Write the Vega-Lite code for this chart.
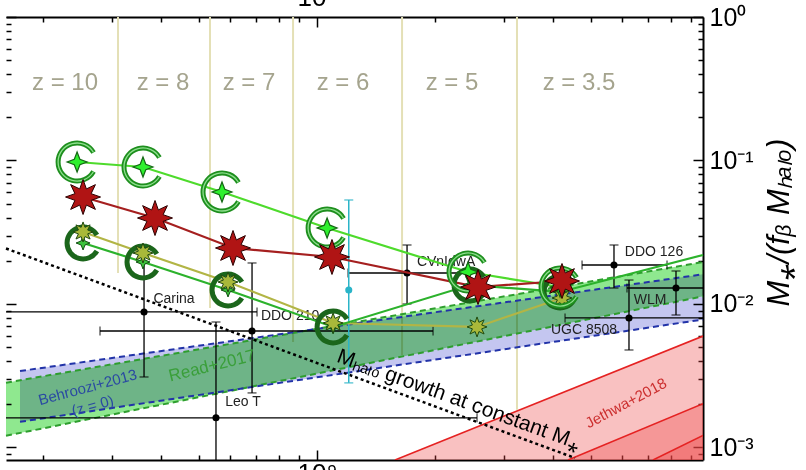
{
  "$schema": "https://vega.github.io/schema/vega-lite/v6.json",
  "width": 697,
  "height": 443,
  "autosize": {"type": "none"},
  "padding": {"left": 6, "top": 17, "right": 103, "bottom": 10},
  "background": "white",
  "config": {"view": {"stroke": null}, "font": "Liberation Sans"},
  "resolve": {"axis": {"x": "independent", "y": "independent"}},
  "datasets": {
    "zlines": [
      {"x": 3.107e8, "y": 1, "y2": 0.01644},
      {"x": 5.333e8, "y": 1, "y2": 0.00938},
      {"x": 8.687e8, "y": 1, "y2": 0.00543},
      {"x": 1.648e9, "y": 1, "y2": 0.00441},
      {"x": 3.237e9, "y": 1, "y2": 0.00183}
    ],
    "zlabels": [
      {"x": 2.276e8, "y": 0.3467, "t": "z = 10"},
      {"x": 4.046e8, "y": 0.3467, "t": "z = 8"},
      {"x": 6.707e8, "y": 0.3467, "t": "z = 7"},
      {"x": 1.165e9, "y": 0.3467, "t": "z = 6"},
      {"x": 2.21e9, "y": 0.3467, "t": "z = 5"},
      {"x": 4.66e9, "y": 0.3467, "t": "z = 3.5"}
    ],
    "read": [
      {"x": 1.609e8, "hi": 0.002828, "lo": 0.001207},
      {"x": 9.654e9, "hi": 0.01962, "lo": 0.0113}
    ],
    "behroozi": [
      {"x": 1.747e8, "hi": 0.00341, "lo": 0.00151},
      {"x": 9.654e9, "hi": 0.01611, "lo": 0.0078}
    ],
    "jethwa": [
      {"k": 1, "x": 1.581e9, "y": 0.000818},
      {"k": 1, "x": 9.654e9, "y": 0.00598},
      {"k": 2, "x": 4.369e9, "y": 0.000818},
      {"k": 2, "x": 9.654e9, "y": 0.002018},
      {"k": 3, "x": 7.196e9, "y": 0.000818},
      {"k": 3, "x": 9.654e9, "y": 0.001213}
    ],
    "dotted": [
      {"x": 1.609e8, "y": 0.02436},
      {"x": 4.551e9, "y": 0.000845}
    ],
    "obs": [
      {"name": "Carina", "x": 3.62e8, "y": 0.0088, "xlo": 1.4e8, "xhi": 7.03e8, "ylo": 0.0031, "yhi": 0.02195, "lx": 4.317e8, "ly": 0.01083},
      {"name": "DDO 210", "x": 6.827e8, "y": 0.00648, "xlo": 2.795e8, "xhi": 1.977e9, "ylo": 0.0024, "yhi": 0.01931, "lx": 8.535e8, "ly": 0.00825},
      {"name": "Leo T", "x": 5.524e8, "y": 0.00161, "xlo": 1.4e8, "xhi": 2.56e9, "ylo": 0.0006, "yhi": 0.00749, "lx": 6.476e8, "ly": 0.00208},
      {"name": "CVnIdwA", "x": 1.697e9, "y": 0.01644, "xlo": 1.2e9, "xhi": 2.4e9, "ylo": 0.01, "yhi": 0.02577, "lx": 2.134e9, "ly": 0.01962},
      {"name": "DDO 126", "x": 5.723e9, "y": 0.0187, "xlo": 4.744e9, "xhi": 7.815e9, "ylo": 0.01292, "yhi": 0.02577, "lx": 7.239e9, "ly": 0.02304},
      {"name": "WLM", "x": 8.238e9, "y": 0.01292, "xlo": 6.177e9, "xhi": 1.2e10, "ylo": 0.00838, "yhi": 0.01698, "lx": 7.071e9, "ly": 0.01066},
      {"name": "UGC 8508", "x": 6.25e9, "y": 0.00799, "xlo": 4.293e9, "xhi": 1.2e10, "ylo": 0.00478, "yhi": 0.01469, "lx": 4.799e9, "ly": 0.00659}
    ],
    "cyan": [
      {"x": 1.205e9, "y": 0.01252, "ylo": 0.00282, "yhi": 0.05306}
    ],
    "tracks": [
      {"trk": "A", "x": 2.443e8, "y": 0.09761, "m": 1},
      {"trk": "A", "x": 3.598e8, "y": 0.0901, "m": 1},
      {"trk": "A", "x": 5.723e8, "y": 0.06033, "m": 1},
      {"trk": "A", "x": 1.061e9, "y": 0.03386, "m": 1},
      {"trk": "A", "x": 2.428e9, "y": 0.01671, "m": 1},
      {"trk": "A", "x": 4.169e9, "y": 0.01313, "m": 1},
      {"trk": "B", "x": 2.53e8, "y": 0.05566, "m": 1},
      {"trk": "B", "x": 3.861e8, "y": 0.03974, "m": 1},
      {"trk": "B", "x": 6.105e8, "y": 0.02456, "m": 1},
      {"trk": "B", "x": 1.092e9, "y": 0.02126, "m": 1},
      {"trk": "B", "x": 2.575e9, "y": 0.01313, "m": 1},
      {"trk": "B", "x": 4.217e9, "y": 0.01446, "m": 1},
      {"trk": "C", "x": 2.53e8, "y": 0.03177, "m": 1},
      {"trk": "C", "x": 3.598e8, "y": 0.02266, "m": 1},
      {"trk": "C", "x": 5.929e8, "y": 0.01423, "m": 1},
      {"trk": "C", "x": 1.099e9, "y": 0.00737, "m": 1},
      {"trk": "C", "x": 2.56e9, "y": 0.00692, "m": 1},
      {"trk": "C", "x": 4.217e9, "y": 0.01101, "m": 1},
      {"trk": "D", "x": 2.53e8, "y": 0.02661, "m": 1},
      {"trk": "D", "x": 3.598e8, "y": 0.01962, "m": 1},
      {"trk": "D", "x": 5.929e8, "y": 0.01252, "m": 1},
      {"trk": "D", "x": 1.099e9, "y": 0.00692, "m": 1},
      {"trk": "D", "x": 2.457e9, "y": 0.01356, "m": 1},
      {"trk": "D", "x": 4.169e9, "y": 0.01213, "m": 1},
      {"trk": "D", "x": 9.654e9, "y": 0.02195, "m": 0}
    ],
    "bandtext": [
      {"x": 2.6e8, "y": 0.00263, "t": "Behroozi+2013\n(z = 0)", "g": "B"},
      {"x": 5.396e8, "y": 0.0037, "t": "Read+2017", "g": "R"},
      {"x": 6.141e9, "y": 0.00204, "t": "Jethwa+2018", "g": "J"},
      {"x": 2.302e9, "y": 0.00214, "t": "Mₕₐₗₒ growth at constant M⁎", "g": "M"}
    ]
  },
  "layer": [
    {
      "data": {"name": "zlines"},
      "mark": {"type": "rule", "color": "#e4e0b6", "strokeWidth": 2},
      "encoding": {
        "x": {"field": "x", "type": "quantitative", "scale": {"type": "log", "domain": [1.609e8, 9.654e9]},
          "axis": {"orient": "bottom", "values": [2e8, 3e8, 4e8, 5e8, 6e8, 7e8, 8e8, 9e8, 1e9, 2e9, 3e9, 4e9, 5e9, 6e9, 7e9, 8e9, 9e9],
            "title": null, "grid": false, "labelExpr": "abs(log(datum.value)/LN10 - 9) < 0.001 ? '10⁹' : ''",
            "labelFontSize": 26, "labelColor": "black", "labelPadding": 10, "labelOverlap": false, "labelFlush": false,
            "tickColor": "black", "tickWidth": 1.5,
            "tickSize": {"condition": {"test": "abs(log(datum.value)/LN10 - round(log(datum.value)/LN10)) < 0.001", "value": -10}, "value": -5},
            "domainColor": "black", "domainWidth": 2}},
        "y": {"field": "y", "type": "quantitative", "scale": {"type": "log", "domain": [0.000818, 1]},
          "axis": {"orient": "right", "values": [0.0009, 0.001, 0.002, 0.003, 0.004, 0.005, 0.006, 0.007, 0.008, 0.009, 0.01, 0.02, 0.03, 0.04, 0.05, 0.06, 0.07, 0.08, 0.09, 0.1, 0.2, 0.3, 0.4, 0.5, 0.6, 0.7, 0.8, 0.9, 1],
            "title": "M⁎/(fᵦ Mₕₐₗₒ)", "titleFontSize": 31, "titleFontWeight": "normal", "titleFontStyle": "italic", "titleColor": "black",
            "titleAngle": 270, "titleX": 76, "titleY": 205, "titleAlign": "center", "titleBaseline": "middle",
            "grid": false,
            "labelExpr": "abs(log(datum.value)/LN10 - round(log(datum.value)/LN10)) < 0.001 ? ['10⁻³','10⁻²','10⁻¹','10⁰'][round(log(datum.value)/LN10)+3] : ''",
            "labelFontSize": 25, "labelColor": "black", "labelPadding": 16, "labelOverlap": false, "labelFlush": false,
            "tickColor": "black", "tickWidth": 1.5,
            "tickSize": {"condition": {"test": "abs(log(datum.value)/LN10 - round(log(datum.value)/LN10)) < 0.001", "value": -10}, "value": -5},
            "domainColor": "black", "domainWidth": 2}},
        "y2": {"field": "y2"}
      }
    },
    {
      "data": {"name": "read"},
      "mark": {"type": "area", "color": "#8fe88f", "opacity": 1, "blend": "multiply"},
      "encoding": {
        "x": {"field": "x", "type": "quantitative", "scale": {"type": "log", "domain": [1.609e8, 9.654e9]}, "axis": null},
        "y": {"field": "hi", "type": "quantitative", "scale": {"type": "log", "domain": [0.000818, 1]}, "axis": null},
        "y2": {"field": "lo"}
      }
    },
    {
      "data": {"name": "behroozi"},
      "mark": {"type": "area", "color": "#c4c6f0", "opacity": 1, "blend": "multiply"},
      "encoding": {
        "x": {"field": "x", "type": "quantitative", "scale": {"type": "log", "domain": [1.609e8, 9.654e9]}, "axis": null},
        "y": {"field": "hi", "type": "quantitative", "scale": {"type": "log", "domain": [0.000818, 1]}, "axis": null},
        "y2": {"field": "lo"}
      }
    },
    {
      "data": {"name": "jethwa"},
      "mark": {"type": "area", "color": "#ee4444", "opacity": 0.33, "clip": true},
      "encoding": {
        "x": {"field": "x", "type": "quantitative", "scale": {"type": "log", "domain": [1.609e8, 9.654e9]}, "axis": null},
        "y": {"field": "y", "type": "quantitative", "scale": {"type": "log", "domain": [0.000818, 1]}, "axis": null},
        "y2": {"datum": 0.0005},
        "detail": {"field": "k"}
      }
    },
    {
      "data": {"name": "read"},
      "transform": [{"fold": ["hi", "lo"], "as": ["k", "v"]}],
      "mark": {"type": "line", "color": "#2e9e2e", "strokeWidth": 2, "strokeDash": [6, 4]},
      "encoding": {
        "x": {"field": "x", "type": "quantitative", "scale": {"type": "log", "domain": [1.609e8, 9.654e9]}, "axis": null},
        "y": {"field": "v", "type": "quantitative", "scale": {"type": "log", "domain": [0.000818, 1]}, "axis": null},
        "detail": {"field": "k"}
      }
    },
    {
      "data": {"name": "behroozi"},
      "transform": [{"fold": ["hi", "lo"], "as": ["k", "v"]}],
      "mark": {"type": "line", "color": "#2233a8", "strokeWidth": 2, "strokeDash": [6, 4]},
      "encoding": {
        "x": {"field": "x", "type": "quantitative", "scale": {"type": "log", "domain": [1.609e8, 9.654e9]}, "axis": null},
        "y": {"field": "v", "type": "quantitative", "scale": {"type": "log", "domain": [0.000818, 1]}, "axis": null},
        "detail": {"field": "k"}
      }
    },
    {
      "data": {"name": "jethwa"},
      "mark": {"type": "line", "color": "#e52222", "strokeWidth": 1.6, "clip": true},
      "encoding": {
        "x": {"field": "x", "type": "quantitative", "scale": {"type": "log", "domain": [1.609e8, 9.654e9]}, "axis": null},
        "y": {"field": "y", "type": "quantitative", "scale": {"type": "log", "domain": [0.000818, 1]}, "axis": null},
        "detail": {"field": "k"}
      }
    },
    {
      "data": {"name": "dotted"},
      "mark": {"type": "line", "color": "black", "strokeWidth": 2.5, "strokeDash": [3, 3]},
      "encoding": {
        "x": {"field": "x", "type": "quantitative", "scale": {"type": "log", "domain": [1.609e8, 9.654e9]}, "axis": null},
        "y": {"field": "y", "type": "quantitative", "scale": {"type": "log", "domain": [0.000818, 1]}, "axis": null}
      }
    },
    {
      "data": {"name": "obs"},
      "mark": {"type": "rule", "color": "black", "strokeWidth": 1.3, "clip": true},
      "encoding": {
        "x": {"field": "x", "type": "quantitative", "scale": {"type": "log", "domain": [1.609e8, 9.654e9]}, "axis": null},
        "y": {"field": "ylo", "type": "quantitative", "scale": {"type": "log", "domain": [0.000818, 1]}, "axis": null},
        "y2": {"field": "yhi"}
      }
    },
    {
      "data": {"name": "obs"},
      "mark": {"type": "rule", "color": "black", "strokeWidth": 1.3, "clip": true},
      "encoding": {
        "x": {"field": "xlo", "type": "quantitative", "scale": {"type": "log", "domain": [1.609e8, 9.654e9]}, "axis": null},
        "x2": {"field": "xhi"},
        "y": {"field": "y", "type": "quantitative", "scale": {"type": "log", "domain": [0.000818, 1]}, "axis": null}
      }
    },
    {
      "data": {"name": "obs"},
      "transform": [{"fold": ["ylo", "yhi"], "as": ["k", "v"]}],
      "mark": {"type": "tick", "orient": "horizontal", "color": "black", "size": 9, "thickness": 1.3, "clip": true},
      "encoding": {
        "x": {"field": "x", "type": "quantitative", "scale": {"type": "log", "domain": [1.609e8, 9.654e9]}, "axis": null},
        "y": {"field": "v", "type": "quantitative", "scale": {"type": "log", "domain": [0.000818, 1]}, "axis": null}
      }
    },
    {
      "data": {"name": "obs"},
      "transform": [{"fold": ["xlo", "xhi"], "as": ["k", "v"]}],
      "mark": {"type": "tick", "orient": "vertical", "color": "black", "size": 9, "thickness": 1.3, "clip": true},
      "encoding": {
        "x": {"field": "v", "type": "quantitative", "scale": {"type": "log", "domain": [1.609e8, 9.654e9]}, "axis": null},
        "y": {"field": "y", "type": "quantitative", "scale": {"type": "log", "domain": [0.000818, 1]}, "axis": null}
      }
    },
    {
      "data": {"name": "obs"},
      "mark": {"type": "circle", "color": "black", "size": 50, "opacity": 1},
      "encoding": {
        "x": {"field": "x", "type": "quantitative", "scale": {"type": "log", "domain": [1.609e8, 9.654e9]}, "axis": null},
        "y": {"field": "y", "type": "quantitative", "scale": {"type": "log", "domain": [0.000818, 1]}, "axis": null}
      }
    },
    {
      "data": {"name": "obs"},
      "mark": {"type": "text", "color": "#222222", "fontSize": 14, "align": "center", "baseline": "middle"},
      "encoding": {
        "x": {"field": "lx", "type": "quantitative", "scale": {"type": "log", "domain": [1.609e8, 9.654e9]}, "axis": null},
        "y": {"field": "ly", "type": "quantitative", "scale": {"type": "log", "domain": [0.000818, 1]}, "axis": null},
        "text": {"field": "name"}
      }
    },
    {
      "data": {"name": "cyan"},
      "mark": {"type": "rule", "color": "#2ab4c8", "strokeWidth": 1.5},
      "encoding": {
        "x": {"field": "x", "type": "quantitative", "scale": {"type": "log", "domain": [1.609e8, 9.654e9]}, "axis": null},
        "y": {"field": "ylo", "type": "quantitative", "scale": {"type": "log", "domain": [0.000818, 1]}, "axis": null},
        "y2": {"field": "yhi"}
      }
    },
    {
      "data": {"name": "cyan"},
      "transform": [{"fold": ["ylo", "yhi"], "as": ["k", "v"]}],
      "mark": {"type": "tick", "orient": "horizontal", "color": "#2ab4c8", "size": 9, "thickness": 1.5},
      "encoding": {
        "x": {"field": "x", "type": "quantitative", "scale": {"type": "log", "domain": [1.609e8, 9.654e9]}, "axis": null},
        "y": {"field": "v", "type": "quantitative", "scale": {"type": "log", "domain": [0.000818, 1]}, "axis": null}
      }
    },
    {
      "data": {"name": "cyan"},
      "mark": {"type": "circle", "color": "#2ab4c8", "size": 50, "opacity": 1},
      "encoding": {
        "x": {"field": "x", "type": "quantitative", "scale": {"type": "log", "domain": [1.609e8, 9.654e9]}, "axis": null},
        "y": {"field": "y", "type": "quantitative", "scale": {"type": "log", "domain": [0.000818, 1]}, "axis": null}
      }
    },
    {
      "data": {"name": "tracks"},
      "mark": {"type": "line", "strokeWidth": 2.2},
      "encoding": {
        "x": {"field": "x", "type": "quantitative", "scale": {"type": "log", "domain": [1.609e8, 9.654e9]}, "axis": null},
        "y": {"field": "y", "type": "quantitative", "scale": {"type": "log", "domain": [0.000818, 1]}, "axis": null},
        "color": {"field": "trk", "type": "nominal", "scale": {"domain": ["A", "B", "C", "D"], "range": ["#4edb2c", "#a51f1f", "#b2b545", "#2cb22c"]}, "legend": null},
        "order": {"field": "x", "type": "quantitative"}
      }
    },
    {
      "data": {"name": "tracks"},
      "transform": [{"filter": "datum.trk == 'D' && datum.m == 1"}],
      "mark": {"type": "point", "shape": "M0.866,-0.5 A1,1 0 1,0 0.866,0.5", "filled": false, "stroke": "#1b661b", "strokeWidth": 5, "size": 1024, "opacity": 1},
      "encoding": {
        "x": {"field": "x", "type": "quantitative", "scale": {"type": "log", "domain": [1.609e8, 9.654e9]}, "axis": null},
        "y": {"field": "y", "type": "quantitative", "scale": {"type": "log", "domain": [0.000818, 1]}, "axis": null}
      }
    },
    {
      "data": {"name": "tracks"},
      "transform": [{"filter": "datum.trk == 'D' && datum.m == 1"}],
      "mark": {"type": "point", "shape": "M0,-1 L0.28,-0.28 L1,0 L0.28,0.28 L0,1 L-0.28,0.28 L-1,0 L-0.28,-0.28 Z", "filled": true, "fill": "#3cc23c", "stroke": "#145214", "strokeWidth": 1, "size": 196, "opacity": 1},
      "encoding": {
        "x": {"field": "x", "type": "quantitative", "scale": {"type": "log", "domain": [1.609e8, 9.654e9]}, "axis": null},
        "y": {"field": "y", "type": "quantitative", "scale": {"type": "log", "domain": [0.000818, 1]}, "axis": null}
      }
    },
    {
      "data": {"name": "tracks"},
      "transform": [{"filter": "datum.trk == 'C' && datum.m == 1"}],
      "mark": {"type": "point", "shape": "M0,-1 L0.191,-0.462 L0.707,-0.707 L0.462,-0.191 L1,0 L0.462,0.191 L0.707,0.707 L0.191,0.462 L0,1 L-0.191,0.462 L-0.707,0.707 L-0.462,0.191 L-1,0 L-0.462,-0.191 L-0.707,-0.707 L-0.191,-0.462 Z", "filled": true, "fill": "#a9b83a", "stroke": "#1f4a10", "strokeWidth": 1, "size": 400, "opacity": 1},
      "encoding": {
        "x": {"field": "x", "type": "quantitative", "scale": {"type": "log", "domain": [1.609e8, 9.654e9]}, "axis": null},
        "y": {"field": "y", "type": "quantitative", "scale": {"type": "log", "domain": [0.000818, 1]}, "axis": null}
      }
    },
    {
      "data": {"name": "tracks"},
      "transform": [{"filter": "datum.trk == 'A'"}],
      "mark": {"type": "point", "shape": "M0.866,-0.5 A1,1 0 1,0 0.866,0.5", "filled": false, "stroke": "#1e8f1e", "strokeWidth": 5, "size": 1444, "opacity": 1},
      "encoding": {
        "x": {"field": "x", "type": "quantitative", "scale": {"type": "log", "domain": [1.609e8, 9.654e9]}, "axis": null},
        "y": {"field": "y", "type": "quantitative", "scale": {"type": "log", "domain": [0.000818, 1]}, "axis": null}
      }
    },
    {
      "data": {"name": "tracks"},
      "transform": [{"filter": "datum.trk == 'A'"}],
      "mark": {"type": "point", "shape": "M0.866,-0.5 A1,1 0 1,0 0.866,0.5", "filled": false, "stroke": "#8fe08f", "strokeWidth": 1.3, "size": 1444, "opacity": 1},
      "encoding": {
        "x": {"field": "x", "type": "quantitative", "scale": {"type": "log", "domain": [1.609e8, 9.654e9]}, "axis": null},
        "y": {"field": "y", "type": "quantitative", "scale": {"type": "log", "domain": [0.000818, 1]}, "axis": null}
      }
    },
    {
      "data": {"name": "tracks"},
      "transform": [{"filter": "datum.trk == 'A'"}],
      "mark": {"type": "point", "shape": "M0,-1 L0.28,-0.28 L1,0 L0.28,0.28 L0,1 L-0.28,0.28 L-1,0 L-0.28,-0.28 Z", "filled": true, "fill": "#2ef02e", "stroke": "#146614", "strokeWidth": 1.2, "size": 400, "opacity": 1},
      "encoding": {
        "x": {"field": "x", "type": "quantitative", "scale": {"type": "log", "domain": [1.609e8, 9.654e9]}, "axis": null},
        "y": {"field": "y", "type": "quantitative", "scale": {"type": "log", "domain": [0.000818, 1]}, "axis": null}
      }
    },
    {
      "data": {"name": "tracks"},
      "transform": [{"filter": "datum.trk == 'B'"}],
      "mark": {"type": "point", "shape": "M0,-1 L0.191,-0.462 L0.707,-0.707 L0.462,-0.191 L1,0 L0.462,0.191 L0.707,0.707 L0.191,0.462 L0,1 L-0.191,0.462 L-0.707,0.707 L-0.462,0.191 L-1,0 L-0.462,-0.191 L-0.707,-0.707 L-0.191,-0.462 Z", "filled": true, "fill": "#b01414", "stroke": "#2a0000", "strokeWidth": 1, "size": 1225, "opacity": 1},
      "encoding": {
        "x": {"field": "x", "type": "quantitative", "scale": {"type": "log", "domain": [1.609e8, 9.654e9]}, "axis": null},
        "y": {"field": "y", "type": "quantitative", "scale": {"type": "log", "domain": [0.000818, 1]}, "axis": null}
      }
    },
    {
      "data": {"name": "bandtext"},
      "transform": [{"filter": "datum.g == 'B'"}],
      "mark": {"type": "text", "color": "#2a4aa2", "fontSize": 15, "angle": 345, "align": "center", "baseline": "middle", "lineBreak": "\n", "lineHeight": 19},
      "encoding": {
        "x": {"field": "x", "type": "quantitative", "scale": {"type": "log", "domain": [1.609e8, 9.654e9]}, "axis": null},
        "y": {"field": "y", "type": "quantitative", "scale": {"type": "log", "domain": [0.000818, 1]}, "axis": null},
        "text": {"field": "t"}
      }
    },
    {
      "data": {"name": "bandtext"},
      "transform": [{"filter": "datum.g == 'R'"}],
      "mark": {"type": "text", "color": "#3a9f3a", "fontSize": 17, "angle": 346, "align": "center", "baseline": "middle"},
      "encoding": {
        "x": {"field": "x", "type": "quantitative", "scale": {"type": "log", "domain": [1.609e8, 9.654e9]}, "axis": null},
        "y": {"field": "y", "type": "quantitative", "scale": {"type": "log", "domain": [0.000818, 1]}, "axis": null},
        "text": {"field": "t"}
      }
    },
    {
      "data": {"name": "bandtext"},
      "transform": [{"filter": "datum.g == 'J'"}],
      "mark": {"type": "text", "color": "#cc3030", "fontSize": 15, "angle": 332, "align": "center", "baseline": "middle"},
      "encoding": {
        "x": {"field": "x", "type": "quantitative", "scale": {"type": "log", "domain": [1.609e8, 9.654e9]}, "axis": null},
        "y": {"field": "y", "type": "quantitative", "scale": {"type": "log", "domain": [0.000818, 1]}, "axis": null},
        "text": {"field": "t"}
      }
    },
    {
      "data": {"name": "bandtext"},
      "transform": [{"filter": "datum.g == 'M'"}],
      "mark": {"type": "text", "color": "black", "fontSize": 21, "angle": 20, "align": "center", "baseline": "middle"},
      "encoding": {
        "x": {"field": "x", "type": "quantitative", "scale": {"type": "log", "domain": [1.609e8, 9.654e9]}, "axis": null},
        "y": {"field": "y", "type": "quantitative", "scale": {"type": "log", "domain": [0.000818, 1]}, "axis": null},
        "text": {"field": "t"}
      }
    },
    {
      "data": {"name": "zlabels"},
      "mark": {"type": "text", "color": "#a5a48e", "fontSize": 24, "align": "center", "baseline": "middle"},
      "encoding": {
        "x": {"field": "x", "type": "quantitative", "scale": {"type": "log", "domain": [1.609e8, 9.654e9]},
          "axis": {"orient": "top", "values": [2e8, 3e8, 4e8, 5e8, 6e8, 7e8, 8e8, 9e8, 1e9, 2e9, 3e9, 4e9, 5e9, 6e9, 7e9, 8e9, 9e9],
            "title": null, "grid": false, "labelExpr": "abs(log(datum.value)/LN10 - 9) < 0.001 ? '10⁹' : ''",
            "labelFontSize": 26, "labelColor": "black", "labelPadding": 17, "labelOverlap": false, "labelFlush": false,
            "tickColor": "black", "tickWidth": 1.5,
            "tickSize": {"condition": {"test": "abs(log(datum.value)/LN10 - round(log(datum.value)/LN10)) < 0.001", "value": -10}, "value": -5},
            "domainColor": "black", "domainWidth": 2}},
        "y": {"field": "y", "type": "quantitative", "scale": {"type": "log", "domain": [0.000818, 1]},
          "axis": {"orient": "left", "values": [0.0009, 0.001, 0.002, 0.003, 0.004, 0.005, 0.006, 0.007, 0.008, 0.009, 0.01, 0.02, 0.03, 0.04, 0.05, 0.06, 0.07, 0.08, 0.09, 0.1, 0.2, 0.3, 0.4, 0.5, 0.6, 0.7, 0.8, 0.9, 1],
            "title": null, "grid": false, "labels": false, "domain": false,
            "tickColor": "black", "tickWidth": 1.5,
            "tickSize": {"condition": {"test": "abs(log(datum.value)/LN10 - round(log(datum.value)/LN10)) < 0.001", "value": -10}, "value": -5}}},
        "text": {"field": "t"}
      }
    }
  ]
}
